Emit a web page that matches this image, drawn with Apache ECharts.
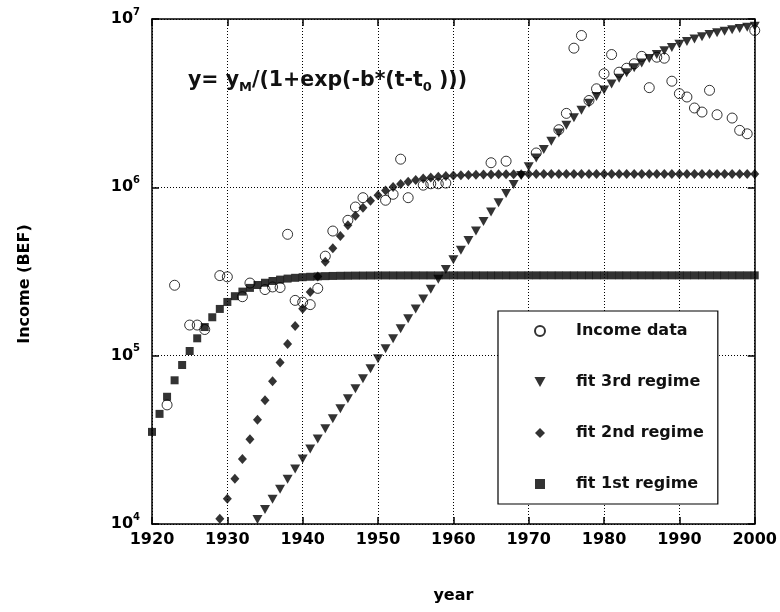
<!DOCTYPE html>
<html>
<head>
<meta charset="utf-8">
<script src="https://cdn.jsdelivr.net/npm/echarts@6/dist/echarts.min.js"></script>
<style>
html,body{margin:0;padding:0;background:#fff;}
#chart{width:780px;height:612px;}
</style>
</head>
<body>
<div id="chart"></div>
<script>
// ---- data ----
const incomeYears = [1922,1923,1925,1926,1927,1929,1930,1932,1933,1935,1936,1937,1938,1939,1940,1941,1942,1943,1944,1946,1947,1948,1951,1952,1953,1954,1956,1957,1958,1959,1965,1967,1971,1974,1975,1976,1977,1978,1979,1980,1981,1982,1983,1984,1985,1986,1987,1988,1989,1990,1991,1992,1993,1994,1995,1997,1998,1999,2000];
const incomeValues = [51000,262000,152000,152000,143000,299000,294000,224000,270000,247000,256000,254000,526000,213000,208000,201000,251000,390000,550000,637000,764000,868000,838000,909000,1470000,868000,1030000,1050000,1050000,1060000,1400000,1430000,1600000,2200000,2750000,6710000,7980000,3280000,3850000,4730000,6150000,4830000,5100000,5420000,6000000,3910000,5930000,5850000,4270000,3600000,3440000,2960000,2800000,3770000,2700000,2580000,2180000,2080000,8550000];

const fit1Start = 1920;
const fit1Values = [35250,45100,57000,71400,88000,106600,126800,147900,169100,189500,
  208500,225600,240200,252700,262900,271200,277800,283000,287000,290100,
  292500,294300,295700,296800,297600,298200,298600,299000,299200,299400,
  299600,299700,299700,299700,299800,299800,299800,299800,299800,299900,
  299900,299900,299900,299900,299900,299900,299900,299900,299900,300000,
  300000,300000,300000,300000,300000,300000,300000,300000,300000,300000,
  300000,300000,300000,300000,300000,300000,300000,300000,300000,300000,
  300000,300000,300000,300000,300000,300000,300000,300000,300000,300000,
  300000];

const fit2Start = 1929;
const fit2Values = [10750,14130,18550,24340,31830,41670,54300,70500,91200,117300,
  150000,190200,238600,295600,361400,434600,513700,595800,678300,757600,
  831600,898200,956200,1005000,1046000,1079600,1106400,1127600,1144300,1157200,
  1167200,1175000,1180900,1185400,1188900,1191500,1193600,1195100,1196300,1197200,
  1197900,1198400,1198800,1199100,1199300,1199500,1199600,1199700,1199800,1199800,
  1199900,1199900,1200000,1200000,1200000,1200000,1200000,1200000,1200000,1200000,
  1200000,1200000,1200000,1200000,1200000,1200000,1200000,1200000,1200000,1200000,
  1200000,1200000];

const fit3Start = 1934;
const fit3Values = [10640,12210,14010,16090,18460,21190,24320,27910,32030,36750,
  42140,48360,55460,63610,72940,83680,95970,110000,126100,144500,
  165600,189400,216900,248100,284100,324700,370800,423400,482900,550400,
  626900,712800,809700,918700,1040500,1176300,1327300,1494300,1678400,1880100,
  2100000,2338000,2594000,2868000,3159000,3464000,3782000,4112000,4450000,4792000,
  5137000,5481000,5820000,6152000,6473000,6781000,7075000,7352000,7612000,7853000,
  8077000,8282000,8470000,8640000,8794000,8933000,9058000];

const xTicks = [1920,1930,1940,1950,1960,1970,1980,1990,2000];
const legendNames = ['Income data','fit 3rd regime','fit 2nd regime','fit 1st regime'];
const formulaParts = ['y= y','M','/(1+exp(-b*(t-t','0',' )))'];
const xTitle = 'year';
const yTitle = 'Income (BEF)';

// ---- build ----
const FONT = 'DejaVu Sans';
const pairs = (start, vals) => vals.map((v, i) => [start + i, v]);
const incomeData = incomeYears.map((y, i) => [y, incomeValues[i]]);
const triPath = 'path://M0,0L10,0L5,9Z';
const diaPath = 'path://M5,0L10,5L5,10L0,5Z';
const sqPath = 'path://M0,0L10,0L10,10L0,10Z';

const chart = echarts.init(document.getElementById('chart'), null, {renderer: 'canvas'});
const dotted = {show: true, lineStyle: {color: '#000', width: 1, type: [1, 2]}};
const axisLine = {show: true, onZero: false, lineStyle: {color: '#000', width: 1.5}};
const tickIn = {show: true, inside: true, length: 7, lineStyle: {color: '#000', width: 1.5}};

chart.setOption({
  animation: false,
  backgroundColor: '#fff',
  grid: {left: 152, right: 20, top: 19, bottom: 88},
  xAxis: [{
    type: 'value', min: 1920, max: 2000, interval: 10, position: 'bottom',
    axisLine: axisLine, axisTick: tickIn, splitLine: dotted,
    axisLabel: {color: '#000', fontFamily: FONT, fontWeight: 'bold', fontSize: 16, margin: 8,
      formatter: v => xTicks.indexOf(v) >= 0 ? String(v) : ''},
    name: xTitle, nameLocation: 'middle', nameGap: 64,
    nameTextStyle: {color: '#000', fontFamily: FONT, fontWeight: 'bold', fontSize: 16}
  }, {
    type: 'value', min: 1920, max: 2000, interval: 10, position: 'top',
    axisLine: axisLine, axisTick: tickIn, splitLine: {show: false}, axisLabel: {show: false}
  }],
  yAxis: [{
    type: 'log', logBase: 10, min: 1e4, max: 1e7, position: 'left',
    axisLine: axisLine, axisTick: tickIn, splitLine: dotted, minorTick: {show: false},
    axisLabel: {
      margin: 12,
      formatter: v => '{b|10}{s|' + Math.round(Math.log10(v)) + '}',
      rich: {
        b: {fontFamily: FONT, fontWeight: 'bold', fontSize: 16, color: '#000', lineHeight: 24},
        s: {fontFamily: FONT, fontWeight: 'bold', fontSize: 10, color: '#000', lineHeight: 13, verticalAlign: 'top'}
      }
    }
  }, {
    type: 'log', logBase: 10, min: 1e4, max: 1e7, position: 'right',
    axisLine: axisLine, axisTick: tickIn, splitLine: {show: false}, axisLabel: {show: false}
  }],
  legend: {
    left: 498, top: 311, orient: 'vertical', align: 'left',
    backgroundColor: '#fff', borderColor: '#000', borderWidth: 1.2,
    padding: [12, 14, 12, 36], itemGap: 35, itemWidth: 62, itemHeight: 10,
    symbolKeepAspect: true,
    textStyle: {fontFamily: FONT, fontWeight: 'bold', fontSize: 16, color: '#111', lineHeight: 16},
    data: [
      {name: legendNames[0], icon: 'circle'},
      {name: legendNames[1], icon: triPath},
      {name: legendNames[2], icon: diaPath},
      {name: legendNames[3], icon: sqPath}
    ]
  },
  graphic: [{
    type: 'text', left: 188, top: 70,
    style: {
      text: '{m|' + formulaParts[0] + '}{s|' + formulaParts[1] + '}{m|' + formulaParts[2] + '}{s|' + formulaParts[3] + '}{m|' + formulaParts[4] + '}',
      fill: '#111',
      rich: {
        m: {fontFamily: FONT, fontWeight: 'bold', fontSize: 20.5, lineHeight: 28, fill: '#111'},
        s: {fontFamily: FONT, fontWeight: 'bold', fontSize: 13, lineHeight: 10, verticalAlign: 'bottom', fill: '#111'}
      }
    }
  }, {
    type: 'text', x: 25, y: 284, rotation: Math.PI / 2,
    style: {text: yTitle, align: 'center', verticalAlign: 'middle', fill: '#000',
      font: 'bold 16px "DejaVu Sans"'}
  }],
  series: [{
    name: legendNames[3], type: 'scatter', clip: false, z: 2,
    symbol: 'rect', symbolSize: 8,
    itemStyle: {color: '#000'},
    data: pairs(fit1Start, fit1Values)
  }, {
    name: legendNames[2], type: 'scatter', clip: false, z: 2,
    symbol: 'diamond', symbolSize: [9, 10],
    itemStyle: {color: '#000'},
    data: pairs(fit2Start, fit2Values)
  }, {
    name: legendNames[1], type: 'scatter', clip: false, z: 2,
    symbol: triPath, symbolSize: [10, 9],
    itemStyle: {color: '#000'},
    data: pairs(fit3Start, fit3Values)
  }, {
    name: legendNames[0], type: 'scatter', clip: false, z: 3,
    symbol: 'circle', symbolSize: 10,
    itemStyle: {color: 'rgba(0,0,0,0)', borderColor: '#000', borderWidth: 1},
    data: incomeData
  }]
});
</script>
</body>
</html>
